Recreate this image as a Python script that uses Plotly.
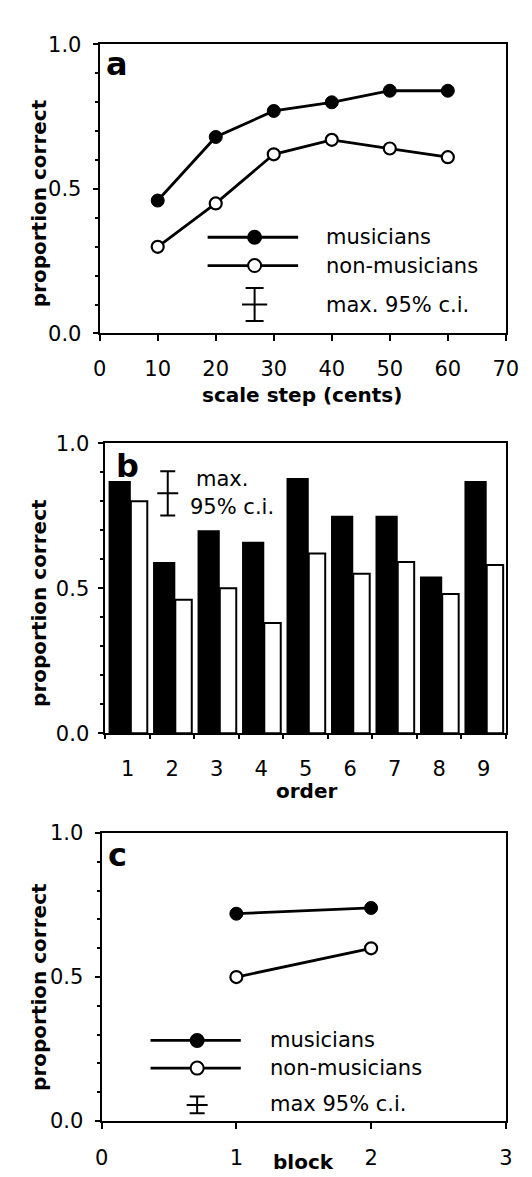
import plotly.graph_objects as go

# ---------------- data ----------------
# panel a
scale_steps = [10, 20, 30, 40, 50, 60]
a_musicians = [0.46, 0.68, 0.77, 0.80, 0.84, 0.84]
a_nonmusicians = [0.30, 0.45, 0.62, 0.67, 0.64, 0.61]
a_xticks = [0, 10, 20, 30, 40, 50, 60, 70]
a_ci = [0.057]

# panel b
orders = [1, 2, 3, 4, 5, 6, 7, 8, 9]
b_musicians = [0.87, 0.59, 0.70, 0.66, 0.88, 0.75, 0.75, 0.54, 0.87]
b_nonmusicians = [0.80, 0.46, 0.50, 0.38, 0.62, 0.55, 0.59, 0.48, 0.58]
b_ci = [0.076]

# panel c
blocks = [1, 2]
c_musicians = [0.72, 0.74]
c_nonmusicians = [0.50, 0.60]
c_xticks = [0, 1, 2, 3]
c_ci = [0.029]

y_ticks = [0.0, 0.5, 1.0]
legend_labels = ["musicians", "non-musicians"]

# ---------------- layout helpers ----------------
W, H = 532, 1177
def px(x):
    return x / W
def py(y):
    return 1 - y / H

FONT = "DejaVu Sans"
TICKSIZE = 21
LEGSIZE = 21
TITLESIZE = 20

fig = go.Figure()

LINE = dict(color="black", width=2.8)
FILLED = dict(size=13, color="black", line=dict(color="black", width=1))
OPEN = dict(size=12, color="white", line=dict(color="black", width=2.2))

# ---- panel a ----
fig.add_trace(go.Scatter(x=scale_steps, y=a_nonmusicians, mode="lines+markers",
                         line=LINE, marker=OPEN, xaxis="x", yaxis="y"))
fig.add_trace(go.Scatter(x=scale_steps, y=a_musicians, mode="lines+markers",
                         line=LINE, marker=FILLED, xaxis="x", yaxis="y"))
fig.add_trace(go.Scatter(x=[26.7], y=[0.1], mode="markers",
                         marker=dict(symbol="line-ew", size=18, line=dict(color="black", width=2)),
                         error_y=dict(type="data", array=a_ci, color="black", thickness=2, width=9),
                         xaxis="x", yaxis="y"))

# ---- panel b ----
fig.add_trace(go.Bar(x=orders, y=b_musicians, width=0.50, offset=-0.43,
                     marker=dict(color="black", line=dict(width=0)), xaxis="x2", yaxis="y2"))
fig.add_trace(go.Bar(x=orders, y=b_nonmusicians, width=0.37, offset=0.07,
                     marker=dict(color="white", line=dict(color="black", width=2)),
                     xaxis="x2", yaxis="y2"))
fig.add_trace(go.Scatter(x=[1.9], y=[0.827], mode="markers",
                         marker=dict(symbol="line-ew", size=15, line=dict(color="black", width=2)),
                         error_y=dict(type="data", array=b_ci, color="black", thickness=2, width=7.5),
                         xaxis="x2", yaxis="y2"))

# ---- panel c ----
fig.add_trace(go.Scatter(x=blocks, y=c_nonmusicians, mode="lines+markers",
                         line=LINE, marker=OPEN, xaxis="x3", yaxis="y3"))
fig.add_trace(go.Scatter(x=blocks, y=c_musicians, mode="lines+markers",
                         line=LINE, marker=FILLED, xaxis="x3", yaxis="y3"))
fig.add_trace(go.Scatter(x=[0.709], y=[0.056], mode="markers",
                         marker=dict(symbol="line-ew", size=15, line=dict(color="black", width=2)),
                         error_y=dict(type="data", array=c_ci, color="black", thickness=2, width=7.5),
                         xaxis="x3", yaxis="y3"))

# ---------------- legends (lines + circles + text) ----------------
shapes = []
annotations = []

def legend_block(xref, yref, x0, x1, xm, ys, xt, ytxt, ci_text):
    for i, y in enumerate(ys):
        shapes.append(dict(type="line", xref=xref, yref=yref, x0=x0, x1=x1, y0=y, y1=y,
                           line=dict(color="black", width=2.8), layer="above"))
        fill = "black" if i == 0 else "white"
        shapes.append(dict(type="circle", xref=xref, yref=yref, xsizemode="pixel", ysizemode="pixel",
                           xanchor=xm, yanchor=y, x0=-6.5, x1=6.5, y0=-6.5, y1=6.5,
                           fillcolor=fill, line=dict(color="black", width=2), layer="above"))
        annotations.append(dict(xref=xref, yref=yref, x=xt, y=y, text=legend_labels[i],
                                showarrow=False, xanchor="left", yanchor="middle",
                                font=dict(family=FONT, size=LEGSIZE, color="black")))
    annotations.append(dict(xref=xref, yref=yref, x=xt, y=ytxt, text=ci_text,
                            showarrow=False, xanchor="left", yanchor="middle",
                            font=dict(family=FONT, size=LEGSIZE, color="black")))

legend_block("x", "y", 18.6, 34.2, 26.7, [0.333, 0.235], 38.6, 0.1, "max. 95% c.i.")
legend_block("x3", "y3", 0.363, 1.033, 0.709, [0.28, 0.184], 1.235, 0.059, "max 95% c.i.")

annotations.append(dict(xref="x2", yref="y2", x=2.5, y=0.876, text="max.", showarrow=False,
                        xanchor="left", yanchor="middle", font=dict(family=FONT, size=LEGSIZE, color="black")))
annotations.append(dict(xref="x2", yref="y2", x=2.36, y=0.78, text="95% c.i.", showarrow=False,
                        xanchor="left", yanchor="middle", font=dict(family=FONT, size=LEGSIZE, color="black")))

# panel letters
for letter, (x, y) in {"a": (106, 45), "b": (117, 455), "c": (107, 852)}.items():
    annotations.append(dict(xref="paper", yref="paper", x=px(x), y=py(y), text="<b>%s</b>" % letter,
                            showarrow=False, xanchor="center", yanchor="middle",
                            font=dict(family=FONT, size=32, color="black")))

# axis titles
for (x, y) in [(25, 187), (25, 595), (25, 987)]:
    annotations.append(dict(xref="paper", yref="paper", x=px(x), y=py(y), text="<b>proportion correct</b>",
                            textangle=-90, showarrow=False, xanchor="center", yanchor="middle",
                            font=dict(family=FONT, size=TITLESIZE, color="black")))
for text, (x, y) in [("scale step (cents)", (298, 383)), ("order", (303, 787)), ("block", (300, 1166))]:
    annotations.append(dict(xref="paper", yref="paper", x=px(x), y=py(y), text="<b>%s</b>" % text,
                            showarrow=False, xanchor="center", yanchor="middle",
                            font=dict(family=FONT, size=TITLESIZE, color="black")))

def yaxis(top, bottom, anchor, standoff):
    return dict(domain=[py(bottom), py(top)], range=[0, 1], tickvals=y_ticks, tickformat=".1f",
                ticks="outside", ticklen=5, tickwidth=2, tickcolor="black",
                minor=dict(tickmode="linear", tick0=0, dtick=0.1, ticks="outside", ticklen=3,
                           tickwidth=1.5, tickcolor="black"),
                showline=True, mirror=True, linewidth=2, linecolor="black",
                showgrid=False, zeroline=False, anchor=anchor, ticklabelstandoff=standoff,
                tickfont=dict(family=FONT, size=TICKSIZE, color="black"))

fig.update_layout(
    width=W, height=H,
    margin=dict(l=0, r=0, t=0, b=0),
    paper_bgcolor="white", plot_bgcolor="white",
    showlegend=False, barmode="overlay",
    xaxis=dict(domain=[px(88), px(510)], range=[0, 70], tickvals=a_xticks,
               ticks="outside", ticklen=6, tickwidth=2, tickcolor="black",
               showline=True, mirror=True, linewidth=2, linecolor="black",
               showgrid=False, zeroline=False, anchor="y", ticklabelstandoff=9,
               tickfont=dict(family=FONT, size=TICKSIZE, color="black")),
    yaxis=yaxis(25, 320, "x", 7),
    xaxis2=dict(domain=[px(94), px(510)], range=[0.5, 9.5], tickvals=orders,
                ticks="", showline=True, mirror=True, linewidth=2, linecolor="black",
                minor=dict(tickmode="linear", tick0=0.5, dtick=1, ticks="outside", ticklen=4,
                           tickwidth=2, tickcolor="black"),
                showgrid=False, zeroline=False, anchor="y2", ticklabelstandoff=16,
                tickfont=dict(family=FONT, size=TICKSIZE, color="black")),
    yaxis2=yaxis(432, 728, "x2", 5),
    xaxis3=dict(domain=[px(90), px(510)], range=[0, 3], tickvals=c_xticks,
                ticks="outside", ticklen=6, tickwidth=2, tickcolor="black",
                showline=True, mirror=True, linewidth=2, linecolor="black",
                showgrid=False, zeroline=False, anchor="y3", ticklabelstandoff=11,
                tickfont=dict(family=FONT, size=TICKSIZE, color="black")),
    yaxis3=yaxis(830, 1124, "x3", 7),
    shapes=shapes,
    annotations=annotations,
)

fig.write_html("out.html")
